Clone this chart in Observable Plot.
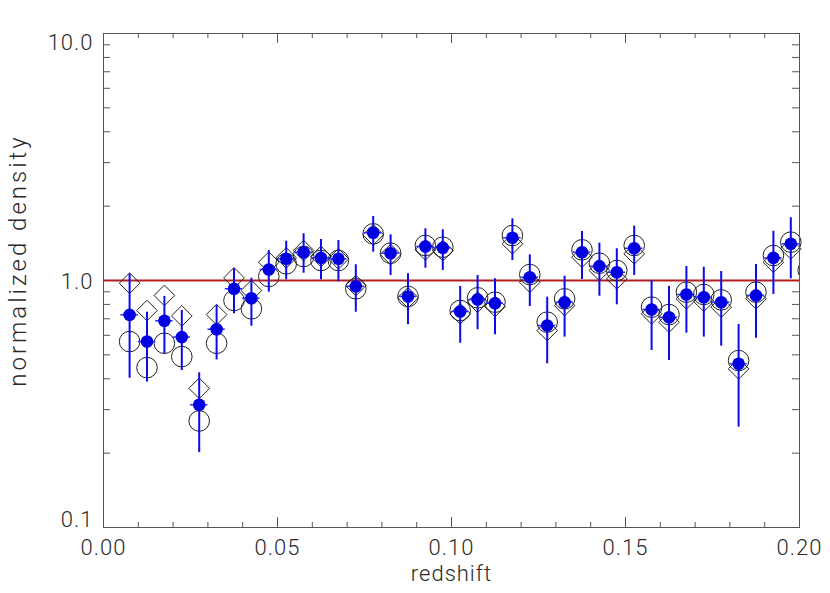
<!DOCTYPE html>
<html><head><meta charset="utf-8">
<script src="https://cdn.jsdelivr.net/npm/d3@7"></script>
<script src="https://cdn.jsdelivr.net/npm/@observablehq/plot@0.6"></script>
<style>
html,body{margin:0;padding:0;background:#fff;}
#chart svg{display:block;}
</style></head><body><div id="chart"></div>
<script>
// Bin centres (redshift)
const redshift = [0.0075,0.0125,0.0175,0.0225,0.0275,0.0325,0.0375,0.0425,0.0475,0.0525,
  0.0575,0.0625,0.0675,0.0725,0.0775,0.0825,0.0875,0.0925,0.0975,0.1025,
  0.1075,0.1125,0.1175,0.1225,0.1275,0.1325,0.1375,0.1425,0.1475,0.1525,
  0.1575,0.1625,0.1675,0.1725,0.1775,0.1825,0.1875,0.1925,0.1975];
// Filled blue points (normalized density) with error range
const density = [0.726,0.566,0.687,0.590,0.314,0.635,0.926,0.848,1.108,1.224,
  1.302,1.235,1.224,0.948,1.560,1.290,0.862,1.373,1.356,0.749,
  0.838,0.809,1.489,1.031,0.657,0.817,1.302,1.143,1.080,1.351,
  0.763,0.710,0.878,0.856,0.817,0.460,0.870,1.235,1.408];
const errLow = [0.402,0.388,0.505,0.432,0.201,0.477,0.733,0.653,0.897,1.007,
  1.070,1.007,0.990,0.744,1.302,1.048,0.662,1.121,1.098,0.557,
  0.632,0.603,1.205,0.785,0.460,0.590,1.010,0.864,0.797,1.048,
  0.521,0.474,0.612,0.590,0.542,0.255,0.584,0.878,1.016];
const errHigh = [1.064,0.744,0.862,0.756,0.423,0.792,1.115,1.022,1.323,1.443,
  1.546,1.466,1.452,1.158,1.816,1.531,1.064,1.620,1.605,0.946,
  1.048,1.016,1.777,1.270,0.856,1.041,1.579,1.416,1.344,1.659,
  1.000,0.946,1.139,1.132,1.087,0.664,1.161,1.583,1.794];
// Open circles
const circleVals = [0.566,0.444,0.557,0.492,0.270,0.557,0.830,0.768,1.038,1.168,
  1.251,1.205,1.205,0.926,1.545,1.290,0.862,1.386,1.364,0.756,
  0.851,0.817,1.521,1.057,0.678,0.843,1.331,1.175,1.098,1.386,
  0.780,0.728,0.897,0.878,0.835,0.474,0.897,1.262,1.430];
// Open diamonds
const diamondVals = [0.975,0.756,0.870,0.719,0.366,0.728,1.025,0.911,1.186,1.235,
  1.322,1.251,1.224,0.954,1.531,1.274,0.851,1.331,1.322,0.733,
  0.817,0.785,1.408,0.984,0.628,0.792,1.243,1.098,1.016,1.282,
  0.733,0.678,0.843,0.824,0.780,0.439,0.843,1.186,1.344];
// Circle just beyond the right edge (only its rim shows)
const edgeRedshift = [0.2025];
const edgeCircle = [1.10];
// Reference level
const refLevel = [1.0];
// Tick values
const xMajor = [0, 0.05, 0.10, 0.15, 0.20];
const xMinor = [0.01,0.02,0.03,0.04,0.06,0.07,0.08,0.09,0.11,0.12,0.13,0.14,0.16,0.17,0.18,0.19];
const yMajor = [0.1, 1, 10];
const yMinor = [0.2,0.3,0.4,0.5,0.6,0.7,0.8,0.9,2,3,4,5,6,7,8,9];
const xTitle = ["redshift"];
const yTitle = ["normalized density"];

const W = 830, H = 593, mL = 103, mR = 31, mT = 33, mB = 66;
const fw = W - mL - mR, fh = H - mT - mB;
const halfBin = 0.0025;
const rows = redshift.map((x, i) => ({x, d: density[i], lo: errLow[i], hi: errHigh[i], c: circleVals[i], m: diamondVals[i]}));
const edge = edgeRedshift.map((x, i) => ({x, c: edgeCircle[i]}));
const font = "Roboto, 'DejaVu Sans', sans-serif";
const txt = "#2a2a2a";
const axisCol = "#555";
const fs = 22;

const chart = Plot.plot({
  width: W, height: H,
  marginLeft: mL, marginRight: mR, marginTop: mT, marginBottom: mB,
  style: {fontFamily: font, fontSize: fs + "px", fontWeight: 300, color: txt, background: "#fff", letterSpacing: "1px"},
  x: {domain: [0, 0.2]},
  y: {type: "log", domain: [0.1, 10]},
  marks: [
    Plot.ruleY(refLevel, {stroke: "#b41e1e", strokeWidth: 2}),
    Plot.dot(rows, {x: "x", y: "c", r: 10.3, stroke: "#222", strokeWidth: 1, fill: "none"}),
    Plot.dot(edge, {x: "x", y: "c", r: 10.3, stroke: "#222", strokeWidth: 1, fill: "none", clip: true}),
    Plot.dot(rows, {x: "x", y: "m", r: 9.3, symbol: "diamond2", stroke: "#222", strokeWidth: 1, fill: "none"}),
    Plot.ruleX(rows, {x: "x", y1: "lo", y2: "hi", stroke: "#0a0af0", strokeWidth: 2}),
    Plot.ruleY(rows, {y: "d", x1: d => d.x - halfBin, x2: d => d.x + halfBin, stroke: "#2a2aff", strokeWidth: 1.5}),
    Plot.dot(rows, {x: "x", y: "d", r: 6.3, fill: "#0000e0"}),
    // inward ticks
    Plot.ruleX(xMinor, {x: d => d, insetTop: fh - 5, stroke: axisCol}),
    Plot.ruleX(xMinor, {x: d => d, insetBottom: fh - 5, stroke: axisCol}),
    Plot.ruleX(xMajor, {x: d => d, insetTop: fh - 10, stroke: axisCol}),
    Plot.ruleX(xMajor, {x: d => d, insetBottom: fh - 10, stroke: axisCol}),
    Plot.ruleY(yMinor, {y: d => d, insetRight: fw - 7, stroke: axisCol}),
    Plot.ruleY(yMinor, {y: d => d, insetLeft: fw - 7, stroke: axisCol}),
    Plot.frame({stroke: axisCol, strokeWidth: 1}),
    // tick labels
    Plot.axisX(xMajor, {tickSize: 0, tickPadding: 12, tickFormat: d => d.toFixed(2), label: null, fill: txt}),
    Plot.axisY([yMajor[2]], {tickSize: 0, tickPadding: 10, tickFormat: d => d.toFixed(1), label: null, dy: 9, fill: txt}),
    Plot.axisY([yMajor[1]], {tickSize: 0, tickPadding: 10, tickFormat: d => d.toFixed(1), label: null, dy: 1, fill: txt}),
    Plot.axisY([yMajor[0]], {tickSize: 0, tickPadding: 10, tickFormat: d => d.toFixed(1), label: null, dy: -8, fill: txt}),
    // axis titles
    Plot.text(xTitle, {frameAnchor: "bottom", dy: 53, text: d => d, fill: txt}),
    Plot.text(yTitle, {frameAnchor: "left", textAnchor: "middle", dx: -85, dy: -20, rotate: -90, text: d => d, fill: txt, fontSize: 24, style: {letterSpacing: "3px"}})
  ]
});
document.getElementById("chart").appendChild(chart);
const yt = chart.querySelectorAll("text");
yt.forEach(t => { if (t.textContent === yTitle[0]) t.style.letterSpacing = "3px"; });
</script></body></html>
